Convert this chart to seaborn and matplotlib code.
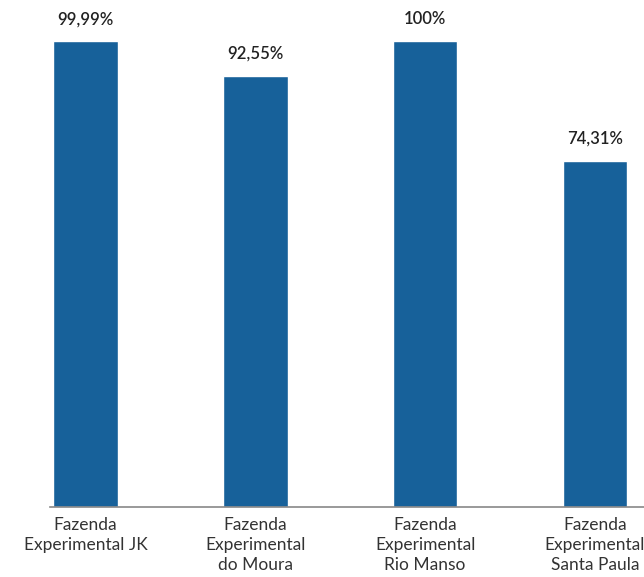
import pandas as pd
import matplotlib
matplotlib.use('Agg')
import matplotlib.pyplot as plt
import seaborn as sns

farms = ['Fazenda\nExperimental JK', 'Fazenda\nExperimental\ndo Moura',
         'Fazenda\nExperimental\nRio Manso', 'Fazenda\nExperimental\nSanta Paula']
values = [99.99, 92.55, 100, 74.31]
value_labels = ['99,99%', '92,55%', '100%', '74,31%']

df = pd.DataFrame({'farm': farms, 'value': values})

sns.set_style('white')
plt.rcParams['font.family'] = ['Lato', 'DejaVu Sans']

fig = plt.figure(figsize=(6.44, 5.77), dpi=100)
ax = fig.add_axes([50 / 644, 70 / 577, 594 / 644, 507 / 577])

sns.barplot(data=df, x='farm', y='value', color='#17619a', width=0.38,
            saturation=1, ax=ax)

for i, (v, lab) in enumerate(zip(values, value_labels)):
    ax.annotate(lab, (i, v), xytext=(0, 10), textcoords='offset points',
                ha='center', va='bottom', fontsize=12, color='#222222',
                fontweight='semibold')

ax.set_xlim(-0.21, 3.29)
ax.set_ylim(0, 108.8)
ax.set_xlabel('')
ax.set_ylabel('')
ax.set_yticks([])
ax.tick_params(axis='x', length=0, pad=7, labelsize=12.5, labelcolor='#333333')
for t in ax.get_xticklabels():
    t.set_linespacing(1.32)
for s in ['top', 'right', 'left']:
    ax.spines[s].set_visible(False)
ax.spines['bottom'].set_color('#888888')
ax.spines['bottom'].set_linewidth(1.2)

fig.savefig('out.png', dpi=100)
